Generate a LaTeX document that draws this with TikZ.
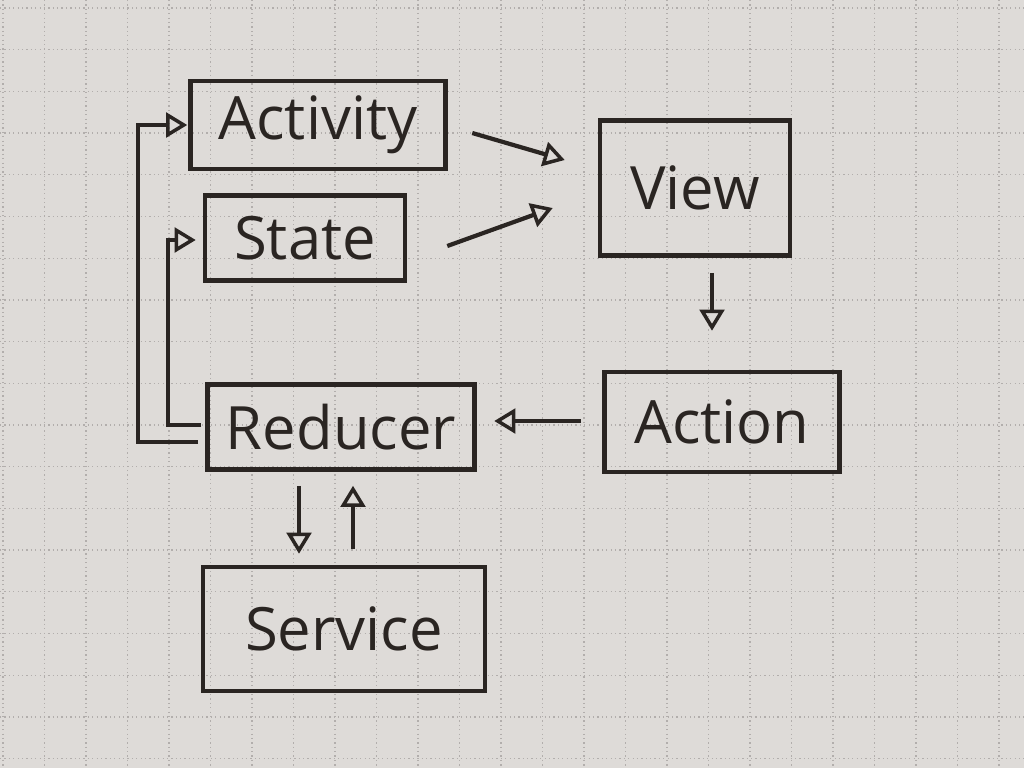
\documentclass[tikz,border=0pt]{standalone}
\usepackage{fontspec}
\setmainfont{Open Sans}
\usetikzlibrary{arrows.meta}
\definecolor{paper}{HTML}{DEDBD8}
\definecolor{gridc}{HTML}{B2AEAC}
\definecolor{ink}{HTML}{2A2522}
\tikzset{
  box/.style={draw=ink, line width=2.6pt, rectangle, inner sep=0pt, text=ink,
    font=\fontsize{34}{40}\selectfont},
  conn/.style={draw=ink, line width=2.4pt,
    -{Triangle[open, length=12pt, width=14pt, line width=2pt]}},
}
\begin{document}
\begin{tikzpicture}[x=0.02cm, y=-0.02cm]
\useasboundingbox (0,0) rectangle (1024,768);
\fill[paper] (0,0) rectangle (1024,768);
\foreach \i in {0,...,24} {
  \draw[gridc, line width=0.7pt, dash pattern=on 0.7pt off 1.8pt] ({3+41.5*\i},0) -- ({3+41.5*\i},768);
}
\foreach \j in {0,...,18} {
  \draw[gridc, line width=0.7pt, dash pattern=on 0.7pt off 1.8pt] (0,{8+41.7*\j}) -- (1024,{8+41.7*\j});
}
\node[box, minimum width=5.1cm, minimum height=1.76cm] (act) at (318,125) {Activity};
\node[box, minimum width=4cm, minimum height=1.7cm] (state) at (305,238) {State};
\node[box, minimum width=3.8cm, minimum height=2.7cm] (view) at (695,188) {View};
\node[box, minimum width=4.7cm, minimum height=2cm] (action) at (722,422) {Action};
\node[box, minimum width=5.34cm, minimum height=1.7cm] (reducer) at (341,427) {Reducer};
\node[box, minimum width=5.64cm, minimum height=2.48cm] (service) at (344,629) {Service};

\draw[conn] ([shift={(24.5,8)}]act.east) -- ([shift={(-33,-28)}]view.west);
\draw[conn] ([shift={(40,8)}]state.east) -- ([shift={(-45,20)}]view.west);
\draw[conn] ([shift={(17,15)}]view.south) -- ([shift={(-10,-39)}]action.north);
\draw[conn] ([shift={(-21,-1)}]action.west) -- ([shift={(17.5,-6)}]reducer.east);
\draw[conn] ([shift={(-42,14)}]reducer.south) -- ([shift={(-45,-11)}]service.north);
\draw[conn] ([shift={(9,-16)}]service.north) -- ([shift={(12,14)}]reducer.south);
\draw[conn] ([shift={(-7,15)}]reducer.west) -- ++(-60,0) |- ([shift={(-1,0)}]act.west);
\draw[conn] ([shift={(-4,-2)}]reducer.west) -- ++(-33,0) |- ([shift={(-7,2)}]state.west);
\end{tikzpicture}
\end{document}
